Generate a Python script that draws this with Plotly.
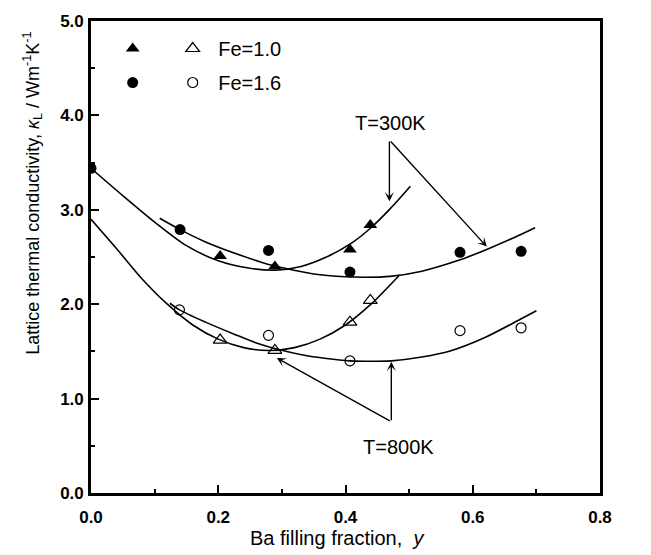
import plotly.graph_objects as go

# ---------------- data ----------------
# measured points
fe10_300K_x = [0.203, 0.289, 0.407, 0.439]
fe10_300K_y = [2.51, 2.40, 2.58, 2.84]
fe16_300K_x = [0.0, 0.140, 0.279, 0.407, 0.580, 0.676]
fe16_300K_y = [3.44, 2.79, 2.57, 2.34, 2.55, 2.56]
fe10_800K_x = [0.203, 0.289, 0.407, 0.439]
fe10_800K_y = [1.62, 1.51, 1.81, 2.04]
fe16_800K_x = [0.139, 0.279, 0.407, 0.580, 0.676]
fe16_800K_y = [1.94, 1.67, 1.40, 1.72, 1.75]

# fitted curves
fit10_300K_x = [0.0, 0.05, 0.10, 0.15, 0.20, 0.25, 0.29, 0.33, 0.37, 0.41, 0.44, 0.47, 0.502]
fit10_300K_y = [3.44, 3.15, 2.87, 2.62, 2.46, 2.38, 2.36, 2.40, 2.50, 2.65, 2.81, 3.01, 3.25]
fit16_300K_x = [0.108, 0.14, 0.18, 0.226, 0.27, 0.305, 0.35, 0.40, 0.433, 0.47, 0.52, 0.58, 0.622, 0.66, 0.698]
fit16_300K_y = [2.91, 2.79, 2.66, 2.54, 2.44, 2.38, 2.32, 2.29, 2.285, 2.295, 2.35, 2.47, 2.58, 2.69, 2.81]
fit10_800K_x = [0.0, 0.04, 0.08, 0.12, 0.16, 0.20, 0.24, 0.28, 0.32, 0.36, 0.40, 0.44, 0.485]
fit10_800K_y = [2.90, 2.59, 2.27, 2.00, 1.78, 1.63, 1.54, 1.51, 1.54, 1.63, 1.78, 2.00, 2.31]
fit16_800K_x = [0.124, 0.139, 0.18, 0.226, 0.26, 0.295, 0.331, 0.37, 0.407, 0.44, 0.472, 0.52, 0.567, 0.62, 0.672, 0.70]
fit16_800K_y = [2.01, 1.94, 1.81, 1.68, 1.59, 1.52, 1.465, 1.425, 1.40, 1.395, 1.40, 1.44, 1.51, 1.65, 1.83, 1.93]

legend_labels = ["Fe=1.0", "Fe=1.6"]
x_ticks = [0.0, 0.2, 0.4, 0.6, 0.8]
y_ticks = [0.0, 1.0, 2.0, 3.0, 4.0, 5.0]

# ---------------- figure ----------------
FONT = "Liberation Sans, Arial, sans-serif"
fig = go.Figure()

curve_style = dict(mode="lines", line=dict(color="black", width=1.6, shape="spline", smoothing=0.8),
                   showlegend=False, hoverinfo="skip")
for cx, cy in [(fit10_300K_x, fit10_300K_y), (fit16_300K_x, fit16_300K_y),
               (fit10_800K_x, fit10_800K_y), (fit16_800K_x, fit16_800K_y)]:
    fig.add_trace(go.Scatter(x=cx, y=cy, **curve_style))

fig.add_trace(go.Scatter(x=fe10_300K_x, y=fe10_300K_y, mode="markers", name=" ",
                         legend="legend", legendgroup="a",
                         marker=dict(symbol="triangle-up", size=12, color="black")))
fig.add_trace(go.Scatter(x=fe16_300K_x, y=fe16_300K_y, mode="markers", name=" ",
                         legend="legend", legendgroup="b",
                         marker=dict(symbol="circle", size=11, color="black")))
fig.add_trace(go.Scatter(x=fe10_800K_x, y=fe10_800K_y, mode="markers", name=" " + legend_labels[0],
                         legend="legend2", legendgroup="c",
                         marker=dict(symbol="triangle-up-open", size=12, color="black",
                                     line=dict(width=1.2, color="black"))))
fig.add_trace(go.Scatter(x=fe16_800K_x, y=fe16_800K_y, mode="markers", name=" " + legend_labels[1],
                         legend="legend2", legendgroup="d",
                         marker=dict(symbol="circle-open", size=10, color="black",
                                     line=dict(width=1.2, color="black"))))

# arrows and temperature labels
arrow_style = dict(showarrow=True, text="", xref="x", yref="y", axref="x", ayref="y",
                   arrowhead=3, arrowsize=1.1, arrowwidth=1.4, arrowcolor="black", standoff=0)
arrows = [
    ((0.469, 3.09), (0.469, 3.74)),
    ((0.622, 2.61), (0.469, 3.74)),
    ((0.472, 1.39), (0.472, 0.755)),
    ((0.292, 1.43), (0.472, 0.755)),
]
for (tx, ty), (vx, vy) in arrows:
    fig.add_annotation(x=tx, y=ty, ax=vx, ay=vy, **arrow_style)

fig.add_annotation(x=0.470, y=3.92, text="T=300K", showarrow=False, xref="x", yref="y",
                   font=dict(family=FONT, size=20, color="black"))
fig.add_annotation(x=0.484, y=0.49, text="T=800K", showarrow=False, xref="x", yref="y",
                   font=dict(family=FONT, size=20, color="black"))

# axis titles
fig.add_annotation(x=0.483, y=-0.095, xref="paper", yref="paper", showarrow=False,
                   text="Ba filling fraction,&nbsp; <i>y</i>", xanchor="center", yanchor="middle",
                   font=dict(family=FONT, size=20, color="black"))
fig.add_annotation(x=-0.114, y=0.636, xref="paper", yref="paper", showarrow=False, textangle=-90,
                   text="Lattice thermal conductivity, <i>κ</i><sub>L</sub> / Wm<sup>-1</sup>K<sup>-1</sup>",
                   xanchor="center", yanchor="middle",
                   font=dict(family=FONT, size=18, color="black"))

axis_common = dict(showgrid=False, zeroline=False, showline=True, linecolor="black", linewidth=2.6,
                   mirror=True, ticks="inside", ticklen=8, tickwidth=2, tickcolor="black",
                   tickfont=dict(family=FONT, size=17, color="black", weight="bold"))
fig.update_xaxes(range=[0, 0.8], tickvals=x_ticks, ticktext=[f"{v:.1f}" for v in x_ticks],
                 ticklabelstandoff=7,
                 minor=dict(ticks="inside", ticklen=4.5, tickwidth=1.5, tickcolor="black", dtick=0.1),
                 **axis_common)
fig.update_yaxes(range=[0, 5], tickvals=y_ticks, ticktext=[f"{v:.1f}" for v in y_ticks],
                 ticklabelstandoff=1,
                 minor=dict(ticks="inside", ticklen=4.5, tickwidth=1.5, tickcolor="black", dtick=0.5),
                 **axis_common)

legend_common = dict(xanchor="left", yanchor="top", bgcolor="rgba(0,0,0,0)",
                     font=dict(family=FONT, size=20, color="black"),
                     traceorder="grouped", tracegroupgap=5, itemclick=False, itemdoubleclick=False)
fig.update_layout(
    width=651, height=555,
    margin=dict(l=91, r=51, t=21, b=62),
    plot_bgcolor="white", paper_bgcolor="white",
    showlegend=True,
    legend=dict(x=0.0426, y=0.983, **legend_common),
    legend2=dict(x=0.1605, y=0.983, **legend_common),
)

fig.write_html("out.html")
